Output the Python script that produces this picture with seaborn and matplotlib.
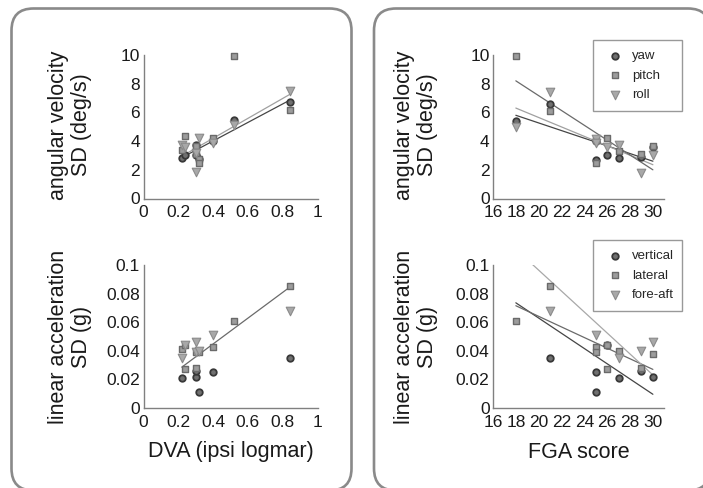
import numpy as np
import pandas as pd
import matplotlib
matplotlib.use("Agg")
import matplotlib.pyplot as plt
from matplotlib.patches import FancyBboxPatch
import seaborn as sns

sns.set_style("white")
plt.rcParams['font.family'] = ['Liberation Sans', 'DejaVu Sans']

# ---- data ----
# DVA vs angular velocity SD (deg/s)
dva_yaw_x = [0.22, 0.24, 0.30, 0.30, 0.32, 0.40, 0.52, 0.84]
dva_yaw_y = [2.85, 3.05, 3.7, 3.0, 2.75, 4.0, 5.5, 6.75]
dva_pitch_x = [0.22, 0.24, 0.30, 0.30, 0.32, 0.32, 0.40, 0.52, 0.84]
dva_pitch_y = [3.35, 4.35, 3.1, 3.65, 2.75, 2.45, 4.25, 9.95, 6.2]
dva_roll_x = [0.22, 0.24, 0.30, 0.30, 0.32, 0.40, 0.52, 0.84]
dva_roll_y = [3.75, 3.6, 3.15, 1.85, 4.2, 3.9, 5.1, 7.5]

# DVA vs linear acceleration SD (g)
dva_vert_x = [0.22, 0.30, 0.30, 0.32, 0.40, 0.84]
dva_vert_y = [0.021, 0.022, 0.026, 0.011, 0.025, 0.035]
dva_lat_x = [0.22, 0.24, 0.24, 0.30, 0.30, 0.32, 0.40, 0.52, 0.84]
dva_lat_y = [0.041, 0.044, 0.027, 0.028, 0.039, 0.039, 0.043, 0.061, 0.085]
dva_fa_x = [0.22, 0.24, 0.30, 0.30, 0.32, 0.40, 0.84]
dva_fa_y = [0.035, 0.044, 0.046, 0.039, 0.040, 0.051, 0.068]

# FGA vs angular velocity SD (deg/s)
fga_yaw_x = [18, 21, 25, 25, 26, 27, 29, 30]
fga_yaw_y = [5.4, 6.6, 2.65, 4.0, 3.05, 2.8, 2.9, 3.6]
fga_pitch_x = [18, 21, 25, 25, 26, 27, 29, 30]
fga_pitch_y = [9.9, 6.1, 4.1, 2.45, 4.25, 3.3, 3.1, 3.65]
fga_roll_x = [18, 21, 25, 25, 26, 27, 29, 30]
fga_roll_y = [5.0, 7.4, 4.15, 3.9, 3.6, 3.7, 1.8, 3.0]

# FGA vs linear acceleration SD (g)
fga_vert_x = [21, 25, 25, 26, 27, 29, 30]
fga_vert_y = [0.035, 0.025, 0.011, 0.044, 0.021, 0.026, 0.022]
fga_lat_x = [18, 21, 25, 25, 26, 26, 27, 29, 30]
fga_lat_y = [0.061, 0.085, 0.043, 0.039, 0.044, 0.027, 0.040, 0.028, 0.038]
fga_fa_x = [21, 25, 27, 29, 30]
fga_fa_y = [0.068, 0.051, 0.035, 0.040, 0.046]

# fitted lines (slope, intercept) as drawn in the figure
dva_ang_fits = {'yaw': (6.45, 1.43), 'roll': (6.94, 1.42)}
dva_lin_fits = {'lateral': (0.0902, 0.0087)}
fga_ang_fits = {'yaw': (-0.2667, 10.6), 'roll': (-0.329, 12.225), 'pitch': (-0.5167, 17.5)}
fga_lin_fits = {'vertical': (-0.00533, 0.1695), 'lateral': (-0.00371, 0.1383),
                'fore-aft': (-0.00733, 0.243)}

# marker styles: circle / square / triangle
sty = [dict(marker='o', s=22, color='#707070', edgecolor='#383838', linewidth=1.3),
       dict(marker='s', s=16, color='#9c9c9c', edgecolor='#6a6a6a', linewidth=1.0),
       dict(marker='v', s=38, color='#a8a8a8', edgecolor='#8a8a8a', linewidth=0.8)]
line_col = {'yaw': '#454545', 'vertical': '#454545',
            'pitch': '#6a6a6a', 'lateral': '#6a6a6a',
            'roll': '#a0a0a0', 'fore-aft': '#a8a8a8'}

W, H = 703, 488
fig = plt.figure(figsize=(W / 100, H / 100), dpi=100)

# rounded panel boxes
bg = fig.add_axes([0, 0, 1, 1])
bg.set_xlim(0, W)
bg.set_ylim(H, 0)
bg.axis('off')
for x0, w in [(11.5, 340), (374, 336)]:
    bg.add_patch(FancyBboxPatch((x0, 8.5), w, 482, boxstyle="round,pad=0,rounding_size=22",
                                fc='white', ec='#8a8a8a', lw=1.9))


def px_axes(x0, y0, x1, y1):
    return fig.add_axes([x0 / W, (H - y1) / H, (x1 - x0) / W, (y1 - y0) / H])


ax_tl = px_axes(143.5, 55, 317.5, 198.5)
ax_bl = px_axes(143.5, 265, 317.5, 408)
ax_tr = px_axes(493, 55, 664.3, 198.5)
ax_br = px_axes(493, 265, 664.3, 408)

panels = [
    (ax_tl, [(dva_yaw_x, dva_yaw_y, 'yaw'), (dva_pitch_x, dva_pitch_y, 'pitch'),
             (dva_roll_x, dva_roll_y, 'roll')], dva_ang_fits),
    (ax_bl, [(dva_vert_x, dva_vert_y, 'vertical'), (dva_lat_x, dva_lat_y, 'lateral'),
             (dva_fa_x, dva_fa_y, 'fore-aft')], dva_lin_fits),
    (ax_tr, [(fga_yaw_x, fga_yaw_y, 'yaw'), (fga_pitch_x, fga_pitch_y, 'pitch'),
             (fga_roll_x, fga_roll_y, 'roll')], fga_ang_fits),
    (ax_br, [(fga_vert_x, fga_vert_y, 'vertical'), (fga_lat_x, fga_lat_y, 'lateral'),
             (fga_fa_x, fga_fa_y, 'fore-aft')], fga_lin_fits),
]

for ax, series, fits in panels:
    allx = np.concatenate([np.asarray(s[0], float) for s in series])
    xr = np.array([allx.min(), allx.max()])
    for name, (m, b) in fits.items():
        ax.plot(xr, m * xr + b, color=line_col[name], lw=0.9, zorder=2)
    for (xs, ys, name), st in zip(series, sty):
        sns.scatterplot(x=xs, y=ys, ax=ax, label=name, zorder=3, clip_on=False, **st)
    if ax.get_legend() is not None:
        ax.get_legend().remove()
    sns.despine(ax=ax)
    for sp in ['left', 'bottom']:
        ax.spines[sp].set_color('#808080')
        ax.spines[sp].set_linewidth(1.0)
    ax.tick_params(axis='both', direction='in', length=2.5, color='#808080',
                   labelsize=12.5, labelcolor='#1a1a1a')
    ax.tick_params(axis='x', pad=5)
    ax.tick_params(axis='y', pad=2.5)

for ax in (ax_tl, ax_bl):
    ax.set_xlim(0, 1)
    ax.set_xticks([0, 0.2, 0.4, 0.6, 0.8, 1.0])
    ax.set_xticklabels(['0', '0.2', '0.4', '0.6', '0.8', '1'])
for ax in (ax_tr, ax_br):
    ax.set_xlim(16, 31)
    ax.set_xticks(range(16, 31, 2))
for ax in (ax_tl, ax_tr):
    ax.set_ylim(0, 10)
    ax.set_yticks(range(0, 11, 2))
for ax in (ax_bl, ax_br):
    ax.set_ylim(0, 0.1)
    ax.set_yticks([0, 0.02, 0.04, 0.06, 0.08, 0.1])
    ax.set_yticklabels(['0', '0.02', '0.04', '0.06', '0.08', '0.1'])

# axis titles
lab = dict(fontsize=15.5, color='#1a1a1a', ha='center', va='center', linespacing=1.15)
fig.text(70 / W, 1 - 125 / H, 'angular velocity\nSD (deg/s)', rotation=90, **lab)
fig.text(70 / W, 1 - 337 / H, 'linear acceleration\nSD (g)', rotation=90, **lab)
fig.text(416 / W, 1 - 125 / H, 'angular velocity\nSD (deg/s)', rotation=90, **lab)
fig.text(416 / W, 1 - 337 / H, 'linear acceleration\nSD (g)', rotation=90, **lab)
fig.text(230.5 / W, 1 - 452 / H, 'DVA (ipsi logmar)', **lab)
fig.text(578.5 / W, 1 - 452 / H, 'FGA score', **lab)

# legends on the FGA panels
for ax, (y0, y1) in [(ax_tr, (40, 113)), (ax_br, (240, 312))]:
    h, l = ax.get_legend_handles_labels()
    leg = ax.legend(h, l, loc='upper left', mode='expand',
                    bbox_to_anchor=(593 / W, 1 - y1 / H, 89 / W, (y1 - y0) / H),
                    bbox_transform=fig.transFigure, borderaxespad=0, borderpad=0.75,
                    handlelength=1.9, handletextpad=0.3, labelspacing=0.55,
                    fontsize=9.5, frameon=True, fancybox=False)
    leg.get_frame().set_edgecolor('#808080')
    leg.get_frame().set_linewidth(1.0)

fig.savefig('out.png', dpi=100)
